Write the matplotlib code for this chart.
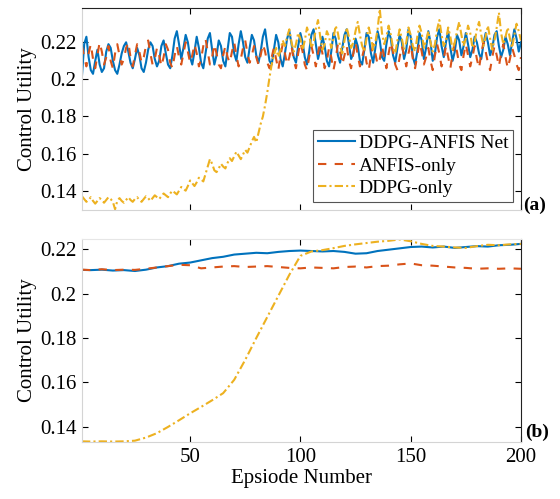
import numpy as np
import matplotlib.pyplot as plt

plt.rcParams['font.family'] = ['Liberation Serif', 'DejaVu Serif']

# (a) per-episode control utility, stored in units of 1e-4
episodes = np.arange(1, 201)

net_raw = [
    2020, 2190, 2230, 2120, 2050, 2030, 2100, 2160, 2080, 2040, 2060, 2150, 2190, 2170, 2100, 2050, 2030, 2080, 2140, 2180,
    2200, 2150, 2090, 2060, 2110, 2170, 2130, 2060, 2040, 2090, 2160, 2200, 2180, 2110, 2070, 2100, 2180, 2210, 2140, 2080,
    2060, 2130, 2220, 2260, 2190, 2110, 2170, 2240, 2200, 2120, 2080, 2150, 2230, 2170, 2090, 2060, 2140, 2220, 2250, 2160,
    2080, 2130, 2210, 2180, 2100, 2070, 2160, 2250, 2230, 2140, 2100, 2190, 2260, 2200, 2120, 2090, 2170, 2240, 2210, 2130,
    2090, 2150, 2230, 2270, 2180, 2100, 2080, 2160, 2240, 2200, 2110, 2070, 2140, 2220, 2260, 2190, 2120, 2090, 2180, 2250,
    2200, 2120, 2080, 2150, 2240, 2270, 2190, 2110, 2160, 2230, 2180, 2100, 2070, 2150, 2250, 2220, 2130, 2090, 2170, 2240,
    2270, 2190, 2110, 2140, 2220, 2180, 2100, 2080, 2160, 2250, 2230, 2140, 2090, 2170, 2260, 2210, 2120, 2100, 2190, 2260,
    2220, 2130, 2090, 2170, 2240, 2200, 2110, 2160, 2270, 2230, 2120, 2080, 2150, 2250, 2210, 2110, 2170, 2260, 2200, 2100,
    2140, 2230, 2270, 2180, 2120, 2200, 2260, 2170, 2100, 2150, 2240, 2210, 2130, 2180, 2250, 2190, 2120, 2160, 2230, 2200,
    2140, 2110, 2190, 2250, 2200, 2130, 2170, 2240, 2260, 2180, 2120, 2160, 2230, 2190, 2130, 2200, 2270, 2220, 2150, 2200,
]

anfis_raw = [
    2180, 2120, 2070, 2140, 2190, 2110, 2060, 2130, 2200, 2150, 2080, 2120, 2180, 2100, 2060, 2140, 2190, 2130, 2080, 2110,
    2170, 2200, 2120, 2070, 2130, 2190, 2150, 2090, 2120, 2180, 2210, 2140, 2080, 2110, 2170, 2130, 2070, 2120, 2190, 2160,
    2090, 2060, 2130, 2180, 2120, 2080, 2140, 2200, 2150, 2090, 2130, 2190, 2140, 2070, 2110, 2180, 2220, 2150, 2080, 2120,
    2190, 2140, 2080, 2060, 2130, 2180, 2120, 2090, 2150, 2200, 2130, 2070, 2110, 2170, 2210, 2140, 2090, 2130, 2180, 2120,
    2080, 2130, 2190, 2150, 2090, 2060, 2120, 2170, 2110, 2050, 2130, 2190, 2140, 2080, 2120, 2180, 2100, 2060, 2140, 2200,
    2150, 2080, 2050, 2120, 2180, 2130, 2070, 2140, 2200, 2140, 2060, 2100, 2170, 2120, 2050, 2110, 2190, 2150, 2080, 2130,
    2180, 2100, 2060, 2140, 2200, 2130, 2070, 2120, 2170, 2090, 2050, 2130, 2190, 2140, 2080, 2110, 2180, 2120, 2060, 2140,
    2200, 2150, 2080, 2050, 2120, 2180, 2130, 2070, 2140, 2190, 2110, 2060, 2130, 2200, 2150, 2080, 2120, 2170, 2100, 2050,
    2130, 2190, 2140, 2070, 2110, 2180, 2120, 2060, 2140, 2200, 2150, 2080, 2050, 2130, 2190, 2130, 2070, 2120, 2180, 2110,
    2060, 2140, 2200, 2150, 2090, 2050, 2120, 2180, 2130, 2070, 2140, 2190, 2120, 2060, 2110, 2170, 2130, 2080, 2050, 2120,
]

ddpg_raw = [
    1370, 1355, 1340, 1350, 1365, 1345, 1330, 1345, 1360, 1350, 1335, 1350, 1365, 1355, 1340, 1300, 1345, 1360, 1345, 1335,
    1350, 1365, 1350, 1340, 1355, 1365, 1350, 1340, 1355, 1370, 1360, 1345, 1360, 1375, 1365, 1355, 1370, 1385, 1375, 1365,
    1385, 1400, 1390, 1380, 1400, 1420, 1410, 1400, 1425, 1455, 1440, 1425, 1445, 1470, 1460, 1450, 1490, 1530, 1570, 1545,
    1510, 1500, 1520, 1545, 1530, 1520, 1550, 1575, 1560, 1585, 1610, 1590, 1570, 1595, 1620, 1605, 1635, 1665, 1690, 1660,
    1710, 1760, 1800, 1860, 1930, 2010, 2080, 2130, 2170, 2120, 2160, 2210, 2180, 2230, 2270, 2200, 2150, 2190, 2250, 2220,
    2160, 2210, 2280, 2240, 2170, 2200, 2270, 2320, 2230, 2160, 2190, 2260, 2230, 2170, 2220, 2290, 2250, 2180, 2140, 2210,
    2280, 2230, 2170, 2200, 2260, 2310, 2240, 2180, 2150, 2220, 2280, 2230, 2160, 2200, 2270, 2380, 2250, 2190, 2230, 2290,
    2240, 2170, 2140, 2210, 2270, 2220, 2160, 2200, 2280, 2240, 2180, 2150, 2230, 2290, 2250, 2170, 2210, 2260, 2200, 2150,
    2190, 2270, 2320, 2240, 2180, 2210, 2280, 2230, 2160, 2200, 2260, 2310, 2240, 2180, 2220, 2290, 2250, 2170, 2200, 2270,
    2310, 2240, 2180, 2230, 2290, 2220, 2160, 2210, 2280, 2360, 2250, 2190, 2230, 2280, 2220, 2170, 2240, 2300, 2260, 2210,
]

# (b) smoothed curves, sampled every 5 episodes
ep_smooth = [1, 5, 10, 15, 20, 25, 30, 35, 40, 45, 50, 55, 60, 65, 70, 75, 80, 85, 90, 95, 100,
             105, 110, 115, 120, 125, 130, 135, 140, 145, 150, 155, 160, 165, 170, 175, 180, 185, 190, 195, 200]
net_smooth = [0.2107, 0.2106, 0.2108, 0.2104, 0.2106, 0.2102, 0.2108, 0.2118, 0.2124, 0.2135, 0.2140,
              0.2150, 0.2160, 0.2166, 0.2176, 0.2180, 0.2184, 0.2182, 0.2188, 0.2192, 0.2194,
              0.2192, 0.2190, 0.2192, 0.2188, 0.2180, 0.2182, 0.2192, 0.2198, 0.2204, 0.2210,
              0.2212, 0.2208, 0.2212, 0.2206, 0.2210, 0.2214, 0.2212, 0.2218, 0.2220, 0.2224]
anfis_smooth = [0.2108, 0.2106, 0.2110, 0.2106, 0.2108, 0.2107, 0.2112, 0.2118, 0.2124, 0.2130, 0.2128,
                0.2114, 0.2118, 0.2122, 0.2124, 0.2120, 0.2122, 0.2124, 0.2120, 0.2116, 0.2114,
                0.2118, 0.2116, 0.2114, 0.2120, 0.2122, 0.2118, 0.2124, 0.2126, 0.2132, 0.2136,
                0.2128, 0.2126, 0.2122, 0.2118, 0.2116, 0.2112, 0.2114, 0.2112, 0.2114, 0.2112]
ddpg_smooth = [0.1335, 0.1334, 0.1335, 0.1334, 0.1335, 0.1338, 0.1352, 0.1372, 0.1400, 0.1430, 0.1461,
               0.1490, 0.1520, 0.1552, 0.1612, 0.1702, 0.1800, 0.1895, 0.1990, 0.2085, 0.2170,
               0.2190, 0.2196, 0.2205, 0.2215, 0.2222, 0.2228, 0.2234, 0.2238, 0.2244, 0.2236,
               0.2224, 0.2215, 0.2212, 0.2208, 0.2206, 0.2214, 0.2220, 0.2218, 0.2222, 0.2224]

labels = ['DDPG-ANFIS Net', 'ANFIS-only', 'DDPG-only']
colors = ['#0072BD', '#D95319', '#EDB120']
dashes = [(), (4, 4), (4, 1.5, 1, 1.5)]
y_ticks = [0.14, 0.16, 0.18, 0.2, 0.22]
y_ticklabels = ['0.14', '0.16', '0.18', '0.2', '0.22']

fig = plt.figure(figsize=(5.6, 4.99), dpi=100)
ax_a = fig.add_axes([0.1464, 0.5792, 0.7839, 0.4048])
ax_b = fig.add_axes([0.1464, 0.1142, 0.7839, 0.4068])

series_a = [np.array(net_raw) / 1e4, np.array(anfis_raw) / 1e4, np.array(ddpg_raw) / 1e4]
for y, c, d, lab in zip(series_a, colors, dashes, labels):
    line, = ax_a.plot(episodes, y, color=c, linewidth=1.5, label=lab)
    if d:
        line.set_dashes(d)

series_b = [net_smooth, anfis_smooth, ddpg_smooth]
for y, c, d in zip(series_b, colors, dashes):
    line, = ax_b.plot(ep_smooth, y, color=c, linewidth=1.5)
    if d:
        line.set_dashes(d)

ax_a.set_ylim(0.1296, 0.2385)
ax_b.set_ylim(0.1332, 0.2246)

for ax in (ax_a, ax_b):
    ax.set_xlim(1, 200)
    ax.set_xticks([50, 100, 150, 200])
    ax.set_yticks(y_ticks)
    ax.set_yticklabels(y_ticklabels)
    ax.tick_params(direction='in', length=4, width=0.8, top=True, right=True,
                   labelsize=15, pad=4)
    ax.set_ylabel('Control Utility', fontsize=15, labelpad=2)
    for side in ('left', 'bottom'):
        ax.spines[side].set_color('#d4d4d4')
    for side in ('top', 'right'):
        ax.spines[side].set_color('#222222')
    ax.spines[:].set_linewidth(0.8)

ax_b.spines['top'].set_color('#e6e6e6')
ax_a.tick_params(labelbottom=False)
ax_b.set_xlabel('Epsiode Number', fontsize=15, labelpad=2)

leg = ax_a.legend(loc='lower right', bbox_to_anchor=(0.982, 0.04), borderaxespad=0,
                  fontsize=14, handlelength=1.9, handletextpad=0.2, labelspacing=0.25,
                  borderpad=0.25, fancybox=False, framealpha=1)
leg.get_frame().set_edgecolor('#555555')
leg.get_frame().set_linewidth(0.8)

fig.text(0.955, 1 - 205 / 499, '(a)', fontsize=14, fontweight='bold', ha='center', va='center')
fig.text(0.959, 1 - 432 / 499, '(b)', fontsize=14, fontweight='bold', ha='center', va='center')

fig.savefig('out.png', dpi=100)
